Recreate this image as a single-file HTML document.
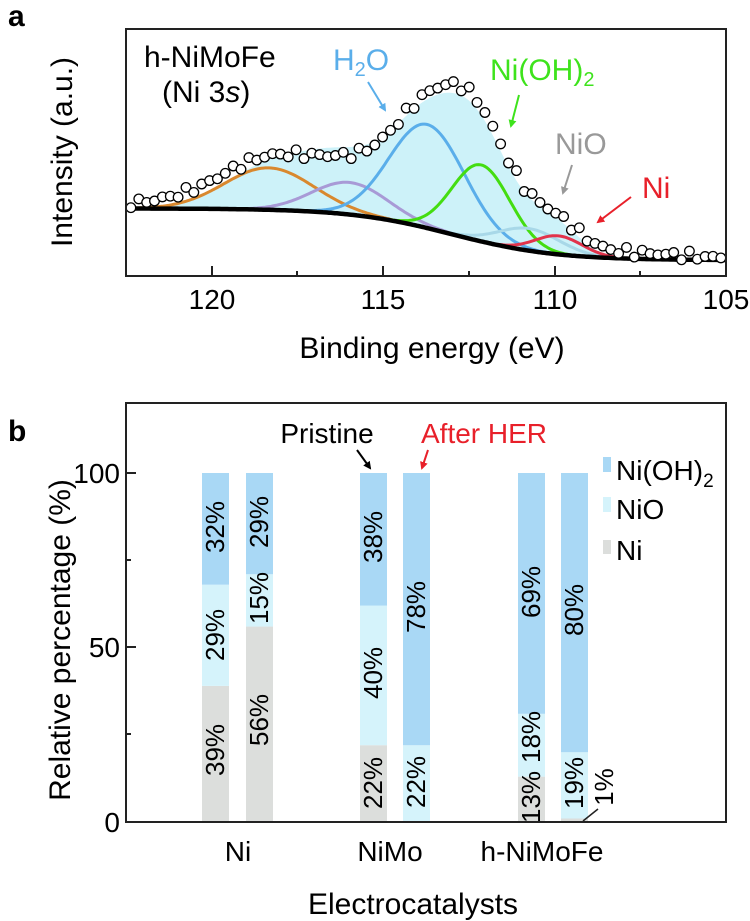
<!DOCTYPE html>
<html><head><meta charset="utf-8"><style>
html,body{margin:0;padding:0;background:#fff;}
svg{display:block;font-family:"Liberation Sans",Arial,sans-serif;}
</style></head><body>
<svg id="s" width="750" height="921" viewBox="0 0 750 921" xmlns="http://www.w3.org/2000/svg">
<text x="8" y="26" font-size="30" font-weight="bold">a</text>
<text x="8" y="441" font-size="30" font-weight="bold">b</text>
<g id="top"></g>
<rect x="126" y="29" width="600" height="247" fill="none" stroke="#222" stroke-width="2"/>
<g stroke="#222" stroke-width="2">
<line x1="212" y1="276" x2="212" y2="266"/><line x1="383" y1="276" x2="383" y2="266"/><line x1="555" y1="276" x2="555" y2="266"/>
<line x1="297" y1="276" x2="297" y2="271"/><line x1="469" y1="276" x2="469" y2="271"/><line x1="640" y1="276" x2="640" y2="271"/>
</g>
<g font-size="28" text-anchor="middle">
<text x="212" y="309">120</text><text x="383" y="309">115</text><text x="555" y="309">110</text><text x="726" y="309">105</text>
</g>
<text x="432" y="358" font-size="30" text-anchor="middle">Binding energy (eV)</text>
<text transform="translate(72,152) rotate(-90)" font-size="30" text-anchor="middle">Intensity (a.u.)</text>
<g font-size="30">
<text x="144" y="67">h-NiMoFe</text>
<text x="162" y="102">(Ni 3<tspan font-style="italic">s</tspan>)</text>
<text x="333" y="70" fill="#5aaeea">H<tspan font-size="20" dy="6">2</tspan><tspan dy="-6">O</tspan></text>
<text x="490" y="80" fill="#3ee31c">Ni(OH)<tspan font-size="20" dy="6">2</tspan></text>
<text x="555" y="154" fill="#999">NiO</text>
<text x="642" y="198" fill="#e8202a">Ni</text>
</g>
<defs>
<marker id="ab" markerWidth="8" markerHeight="8" refX="6" refY="4" orient="auto" markerUnits="userSpaceOnUse"><path d="M0,0L8,4L0,8z" fill="#5aaeea"/></marker>
<marker id="ag" markerWidth="8" markerHeight="8" refX="6" refY="4" orient="auto" markerUnits="userSpaceOnUse"><path d="M0,0L8,4L0,8z" fill="#3ee31c"/></marker>
<marker id="ay" markerWidth="8" markerHeight="8" refX="6" refY="4" orient="auto" markerUnits="userSpaceOnUse"><path d="M0,0L8,4L0,8z" fill="#999"/></marker>
<marker id="ar" markerWidth="8" markerHeight="8" refX="6" refY="4" orient="auto" markerUnits="userSpaceOnUse"><path d="M0,0L8,4L0,8z" fill="#e8202a"/></marker>
<marker id="ak" markerWidth="8" markerHeight="8" refX="6" refY="4" orient="auto" markerUnits="userSpaceOnUse"><path d="M0,0L8,4L0,8z" fill="#000"/></marker>
</defs>
<g stroke-width="2" fill="none">
<line x1="368" y1="82" x2="385" y2="110" stroke="#5aaeea" marker-end="url(#ab)"/>
<line x1="519" y1="95" x2="511" y2="126" stroke="#3ee31c" marker-end="url(#ag)"/>
<line x1="572" y1="165" x2="563" y2="193" stroke="#999" marker-end="url(#ay)"/>
<line x1="631" y1="197" x2="598" y2="222" stroke="#e8202a" marker-end="url(#ar)"/>
<line x1="357" y1="450" x2="370" y2="468" stroke="#000" marker-end="url(#ak)"/>
<line x1="428" y1="450" x2="422" y2="468" stroke="#e8202a" marker-end="url(#ar)"/>
</g>
<g id="bars"></g>
<rect x="126" y="403" width="600" height="419" fill="none" stroke="#222" stroke-width="2"/>
<g stroke="#222" stroke-width="2">
<line x1="126" y1="473" x2="136" y2="473"/><line x1="126" y1="647" x2="136" y2="647"/>
<line x1="126" y1="560" x2="131" y2="560"/><line x1="126" y1="734" x2="131" y2="734"/>
</g>
<g font-size="28" text-anchor="end">
<text x="120" y="483">100</text><text x="120" y="657">50</text><text x="120" y="832">0</text>
</g>
<text transform="translate(70,640) rotate(-90)" font-size="30" text-anchor="middle">Relative percentage (%)</text>
<g font-size="28" text-anchor="middle">
<text x="238" y="861">Ni</text><text x="390" y="861">NiMo</text><text x="542" y="861">h-NiMoFe</text>
</g>
<text x="413" y="914" font-size="30" text-anchor="middle">Electrocatalysts</text>
<text x="327" y="443" font-size="28" text-anchor="middle">Pristine</text>
<text x="484" y="443" font-size="28" text-anchor="middle" fill="#e8202a">After HER</text>
<rect x="603" y="457" width="8" height="15" fill="#a9d8f5"/>
<rect x="603" y="497" width="8" height="15" fill="#d5f3fb"/>
<rect x="603" y="540" width="8" height="14" fill="#dcdedc"/>
<g font-size="28">
<text x="616" y="480">Ni(OH)<tspan font-size="19" dy="7">2</tspan></text>
<text x="616" y="519">NiO</text>
<text x="616" y="560">Ni</text>
</g>
<line x1="583" y1="821" x2="598" y2="809" stroke="#222" stroke-width="1.5"/>
</svg>
<script>
(function(){
var NS="http://www.w3.org/2000/svg";
function el(p,t,a){var e=document.createElementNS(NS,t);for(var k in a)e.setAttribute(k,a[k]);p.appendChild(e);return e;}
var top=document.getElementById('top');
function X(E){return 726-(E-105)*34.2;}
function Y(f){return 29.3+f*246.7;}
function b(E){return 0.726+0.21/(1+Math.exp((E-113)/1.5));}
function g(E,c,a,s){return a*Math.exp(-(E-c)*(E-c)/(2*s*s));}
var peaks=[
 {c:118.37,a:0.17,s:1.3,col:"#d9882e"},
 {c:116.0,a:0.13,s:1.1,col:"#a89ad6"},
 {c:113.74,a:0.42,s:1.1,col:"#5aaeea"},
 {c:112.16,a:0.31,s:0.85,col:"#44dd11"},
 {c:110.76,a:0.09,s:0.9,col:"#a8d8e8"},
 {c:109.9,a:0.075,s:0.7,col:"#e2334b"}];
function env(E){var s=0;peaks.forEach(function(p){s+=g(E,p.c,p.a,p.s);});return s;}
function fillv(E){return env(E)+0.07*Math.exp(-(E-116.6)*(E-116.6)/2.5)+0.04*Math.exp(-(E-113)*(E-113)/1.5);}
var E0=122.5,E1=105,N=300;
var d="M"+X(E0)+","+Y(b(E0));
for(var i=0;i<=N;i++){var E=E0-(E0-E1)*i/N;d+="L"+X(E).toFixed(1)+","+Y(b(E)-fillv(E)).toFixed(1);}
for(var i=N;i>=0;i--){var E=E0-(E0-E1)*i/N;d+="L"+X(E).toFixed(1)+","+Y(b(E)).toFixed(1);}
el(top,"path",{d:d+"Z",fill:"#cdf2f9"});
peaks.forEach(function(p){
 var dd="";
 for(var i=0;i<=N;i++){var E=E0-(E0-E1)*i/N;var v=g(E,p.c,p.a,p.s);if(v<0.002&&Math.abs(E-p.c)>1)continue;dd+=(dd?"L":"M")+X(E).toFixed(1)+","+Y(b(E)-v).toFixed(1);}
 el(top,"path",{d:dd,fill:"none",stroke:p.col,"stroke-width":3});
});
var bd="";
for(var i=0;i<=N;i++){var E=E0-(E0-E1)*i/N;bd+=(i?"L":"M")+X(E).toFixed(1)+","+Y(b(E)).toFixed(1);}
el(top,"path",{d:bd,fill:"none",stroke:"#000","stroke-width":4.5});
for(var E=122.4;E>=105;E-=0.23){
 var n=Math.sin(E*37.1)*0.012+Math.sin(E*13.7)*0.008;
 var v=env(E)+0.04*Math.exp(-(E-120.3)*(E-120.3)/6)+0.035*Math.exp(-(E-116.8)*(E-116.8)/3)+0.075*Math.exp(-(E-112.9)*(E-112.9)/2.2)+0.025*Math.exp(-(E-108)*(E-108)/8)+n;
 el(top,"circle",{cx:X(E).toFixed(1),cy:Y(b(E)-v).toFixed(1),r:4.8,fill:"#fff",stroke:"#000","stroke-width":1.3});
}
var bars=document.getElementById('bars');
function PY(p){return 822-p*3.49;}
var C={oh:"#a9d8f5",o:"#d5f3fb",n:"#dcdedc"};
var data=[[202,39,29,32],[246,56,15,29],[360,22,40,38],[403,0,22,78],[518,13,18,69],[561,1,19,80]];
data.forEach(function(r){
 var x=r[0],w=27,y0=0;
 [[r[1],C.n],[r[2],C.o],[r[3],C.oh]].forEach(function(s){
  if(s[0]>0)el(bars,"rect",{x:x,y:PY(y0+s[0]),width:w,height:s[0]*3.49,fill:s[1]});
  y0+=s[0];
 });
});
var labs=[[215,527,"32%"],[215,635,"29%"],[215,750,"39%"],[259,522,"29%"],[259,598,"15%"],[259,720,"56%"],
[373,537,"38%"],[373,673,"40%"],[373,783,"22%"],[416,607,"78%"],[416,782,"22%"],
[531,592,"69%"],[531,737,"18%"],[531,797,"13%"],[574,610,"80%"],[574,783,"19%"],[604,787,"1%"]];
labs.forEach(function(l){
 var t=el(bars,"text",{transform:"translate("+(l[0]+9)+","+l[1]+") rotate(-90)","font-size":26,"text-anchor":"middle"});
 t.textContent=l[2];
});
})();
</script>
</body></html>
